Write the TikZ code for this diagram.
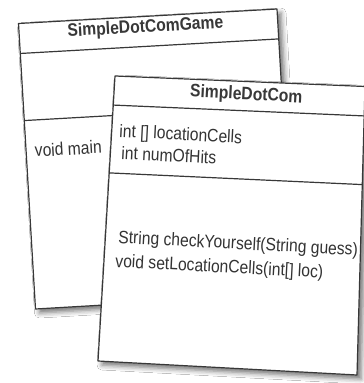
\documentclass[tikz,border=0pt]{standalone}
\usepackage{fontspec}
\setmainfont{Liberation Sans}[FakeStretch=0.87]
\usetikzlibrary{calc,shadows.blur}

\begin{document}
\begin{tikzpicture}[x=1pt,y=1pt,
  card/.style={draw=black!78, line width=1.2pt, fill=white, line join=round,
    blur shadow={shadow xshift=4pt, shadow yshift=-4pt,
                 shadow blur radius=5pt, shadow opacity=55}},
  rule/.style={draw=black!78, line width=1.2pt},
  classname/.style={font=\fontsize{18}{21}\selectfont\bfseries, text=black!78,
                    inner sep=0pt, anchor=base},
  member/.style={font=\fontsize{18}{21}\selectfont, text=black!80,
                 inner sep=0pt, anchor=base west},
]
\useasboundingbox[fill=white] (0,0) rectangle (364,383);

% ---- class card: SimpleDotComGame (behind) ----
\coordinate (gTL) at (18.5,359.5);
\coordinate (gTR) at (277,374);
\coordinate (gBR) at (293.5,89);
\coordinate (gBL) at (35.5,74);
\path[card] (gTL) -- (gTR) -- (gBR) -- (gBL) -- cycle;
\draw[rule] ($(gTL)!0.105!(gBL)$) -- ($(gTR)!0.105!(gBR)$);
\draw[rule] ($(gTL)!0.34!(gBL)$) -- ($(gTR)!0.34!(gBR)$);
\node[classname, rotate=3.2] (gname) at (145.7,350.6) {SimpleDotComGame};
\node[member, rotate=3.2] (gmain) at (35,226) {void main};

% ---- class card: SimpleDotCom (in front) ----
\coordinate (fTL) at (115,307);
\coordinate (fTR) at (365,296.5);
\coordinate (fBR) at (357,8);
\coordinate (fBL) at (98,22);
\path[card] (fTL) -- (fTR) -- (fBR) -- (fBL) -- cycle;
\draw[rule] ($(fTL)!0.102!(fBL)$) -- ($(fTR)!0.102!(fBR)$);
\draw[rule] ($(fTL)!0.34!(fBL)$) -- ($(fTR)!0.34!(fBR)$);
\node[classname, rotate=-3] (fname) at (246,283.2) {SimpleDotCom};
\node[member, rotate=-3] (fcells) at (119,246) {int [] locationCells};
\node[member, rotate=-3] (fhits) at (121,224) {int numOfHits};
\node[member, rotate=-3] (fcheck) at (118,140) {String checkYourself(String guess)};
\node[member, rotate=-3] (fset) at (115,116) {void setLocationCells(int[] loc)};
\end{tikzpicture}
\end{document}
